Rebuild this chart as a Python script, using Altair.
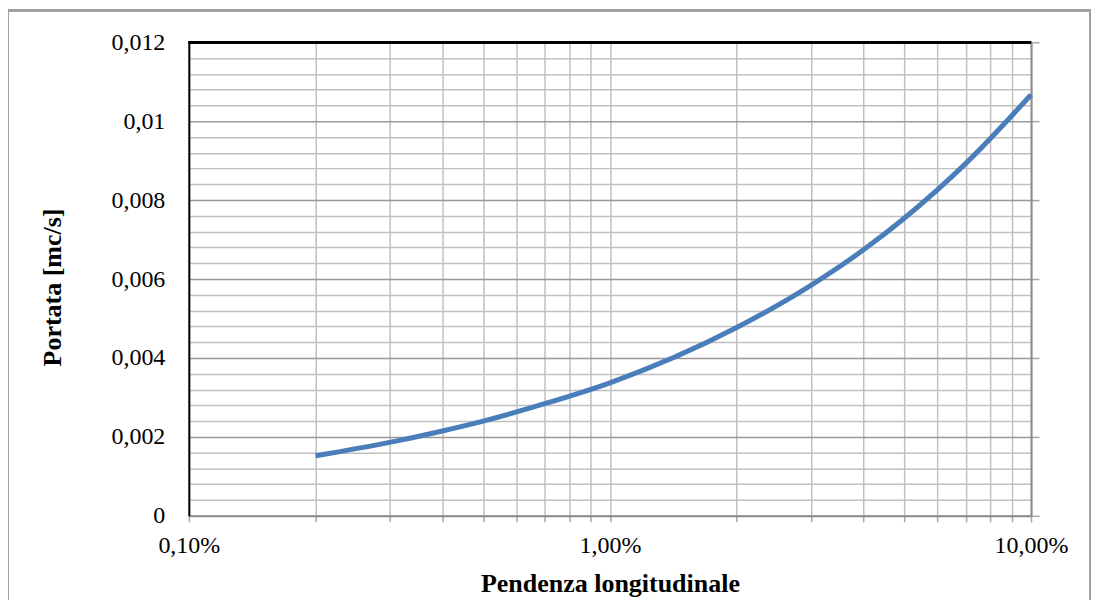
import altair as alt
import pandas as pd

# Data
pendenza = [0.002, 0.003, 0.004, 0.005, 0.007, 0.01, 0.02, 0.03, 0.04, 0.05, 0.07, 0.1]
portata = [0.00152, 0.00186, 0.00215, 0.00240, 0.00284, 0.00337, 0.00477, 0.00584, 0.00674, 0.00754, 0.00893, 0.01067]

x_grid = [m * d for d in (0.001, 0.01) for m in range(1, 10)] + [0.1]
y_grid = [round(i * 0.0004, 4) for i in range(31)]
y_major = [round(i * 0.002, 3) for i in range(7)]

df = pd.DataFrame({"pendenza": pendenza, "portata": portata})

FONT = "Liberation Serif"
W, H = 843, 474

x_enc = alt.X(
    "pendenza:Q",
    scale=alt.Scale(type="log", domain=[0.001, 0.1], nice=False),
    axis=alt.Axis(
        title="Pendenza longitudinale",
        values=x_grid,
        labelExpr="datum.value==0.001 ? '0,10%' : (abs(datum.value-0.01)<1e-9 ? '1,00%' : (abs(datum.value-0.1)<1e-9 ? '10,00%' : ''))",
        grid=True,
        gridColor="#c0c0c0",
        gridWidth=1.5,
        domainColor="#8c8c8c",
        domainWidth=2,
        tickColor="#a6a6a6",
        tickSize=6,
        tickWidth=1.5,
        labelFont=FONT,
        labelFontSize=24,
        labelColor="#000000",
        labelBaseline="alphabetic",
        labelPadding=31,
        labelFlush=False,
        labelOverlap=False,
        titleFont=FONT,
        titleFontSize=26,
        titleFontWeight="bold",
        titleColor="#000000",
        titleX=W / 2,
        titleY=76,
        titleBaseline="alphabetic",
    ),
)

y_enc = alt.Y(
    "portata:Q",
    scale=alt.Scale(domain=[0, 0.012], nice=False, zero=True),
    axis=alt.Axis(
        title="Portata [mc/s]",
        values=y_grid,
        labelExpr="round(datum.value*10000) % 20 == 0 ? replace(format(datum.value, '.3~f'), '.', ',') : ''",
        grid=True,
        gridColor={"condition": {"test": "round(datum.value*10000) % 20 == 0", "value": "#999999"}, "value": "#c0c0c0"},
        gridWidth=1.5,
        domainColor="#000000",
        domainWidth=2,
        ticks=False,
        labelFont=FONT,
        labelFontSize=24,
        labelColor="#000000",
        labelPadding=24,
        labelBaseline="middle",
        labelOverlap=False,
        titleFont=FONT,
        titleFontSize=26,
        titleFontWeight="bold",
        titleColor="#000000",
        titleAngle=-90,
        titleX=-136,
        titleY=245,
        titleAlign="center",
        titleBaseline="middle",
    ),
)

line = alt.Chart(df).mark_line(color="#4A7EBB", strokeWidth=5, interpolate="monotone").encode(
    x=x_enc, y=y_enc
)

right_axis = alt.Chart(df).mark_point(opacity=0).encode(
    x=alt.X("pendenza:Q", scale=alt.Scale(type="log", domain=[0.001, 0.1], nice=False)),
    y=alt.Y(
        "portata:Q",
        scale=alt.Scale(domain=[0, 0.012], nice=False, zero=True),
        axis=alt.Axis(
            orient="right",
            title=None,
            labels=False,
            grid=False,
            values=y_major,
            domainColor="#8c8c8c",
            domainWidth=2,
            tickColor="#a6a6a6",
            tickSize=8,
            tickWidth=1.5,
        ),
    ),
)

top_line = alt.Chart(df).mark_rule(color="#000000", strokeWidth=2).encode(
    x=alt.value(0), x2=alt.value(W), y=alt.value(0)
)

frame = alt.Chart(df).mark_rect(fill=None, stroke="#a0a0a0", strokeWidth=2, clip=False).encode(
    x=alt.value(-181), x2=alt.value(902), y=alt.value(-32), y2=alt.value(H + 120)
)

chart = (
    alt.layer(line, right_axis, top_line, frame)
    .resolve_axis(y="independent")
    .properties(
        width=W,
        height=H,
        autosize=alt.AutoSizeParams(type="none"),
        padding={"left": 181, "top": 34, "right": 60, "bottom": 84},
        background="#ffffff",
    )
    .configure_view(stroke=None)
)

chart.save("out.html", embed_options={"renderer": "svg", "actions": False})
